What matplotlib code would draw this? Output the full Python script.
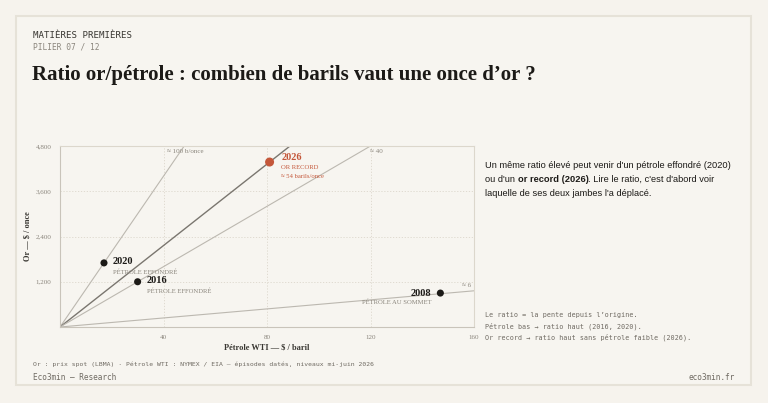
import matplotlib
matplotlib.use("Agg")
import matplotlib.pyplot as plt
from matplotlib.patches import Rectangle

# Data: WTI oil ($/bbl) and gold ($/oz) for dated episodes
years = ["2020", "2016", "2026", "2008"]
oil = [17, 30, 81, 147]
gold = [1700, 1200, 4375, 900]
subtitles = ["PÉTROLE EFFONDRÉ", "PÉTROLE EFFONDRÉ", "OR RECORD", "PÉTROLE AU SOMMET"]

# Reference ratio lines (barrels per ounce)
ratios = [100, 54, 40, 6]
ratio_labels = ["≈ 100 b/once", "", "≈ 40", "≈ 6"]

x_ticks = [40, 80, 120, 160]
y_ticks = [1200, 2400, 3600, 4800]

BG = "#f6f3ed"
INK = "#1c1a17"
GREY = "#8a857c"
ACCENT = "#c4573a"
SERIF = "Liberation Serif"
MONO = "DejaVu Sans Mono"
SANS = "Liberation Sans"

fig = plt.figure(figsize=(7.68, 4.03), dpi=100)
fig.patch.set_facecolor(BG)
W, H = 768, 403

def fx(px):
    return px / W

def fy(py):
    return 1 - py / H

# card
fig.patches.append(Rectangle((fx(16), fy(385)), fx(751) - fx(16), fy(16) - fy(385),
                             transform=fig.transFigure, facecolor="#f7f5f0",
                             edgecolor="#e6e2d8", linewidth=1.5, zorder=-5))

# header
fig.text(fx(33), fy(35), "MATIÈRES PREMIÈRES", family=MONO, fontsize=6.6, color="#3a3833",
         va="center", ha="left")
fig.text(fx(33), fy(46.5), "PILIER 07 / 12", family=MONO, fontsize=5.7, color=GREY,
         va="center", ha="left")
fig.text(fx(32), fy(75), "Ratio or/pétrole : combien de barils vaut une once d’or ?",
         family=SERIF, fontweight="bold", fontsize=15, color=INK, va="center", ha="left")

# chart
ax = fig.add_axes([fx(60), fy(327), fx(474) - fx(60), fy(146) - fy(327)])
ax.set_zorder(2)
ax.set_facecolor("#f7f5f0")
ax.set_xlim(0, 160)
ax.set_ylim(0, 4800)

for t in x_ticks[:-1]:
    ax.axvline(t, color="#dcd7cc", lw=0.6, ls=(0, (1.5, 2)), zorder=1)
for t in y_ticks[:-1]:
    ax.axhline(t, color="#dcd7cc", lw=0.6, ls=(0, (1.5, 2)), zorder=1)

for r in ratios:
    xs = [0, 160]
    ys = [0, 160 * r]
    if r == 54:
        ax.plot(xs, ys, color="#7a766f", lw=1.0, zorder=2)
    else:
        ax.plot(xs, ys, color="#bcb8b0", lw=0.8, zorder=2)

# ratio line labels
ax.text(4800 / ratios[0] + 0.5, 4650, ratio_labels[0], family=SERIF, fontsize=5,
        color=GREY, ha="center", va="center", zorder=4)
ax.text(4800 / ratios[2] + 2.2, 4650, ratio_labels[2], family=SERIF, fontsize=5,
        color=GREY, ha="center", va="center", zorder=4)
ax.text(157, 160 * ratios[3] + 130, ratio_labels[3], family=SERIF, fontsize=5,
        color=GREY, ha="center", va="center", zorder=4)

for yr, x, y, sub in zip(years, oil, gold, subtitles):
    if yr == "2026":
        ax.scatter([x], [y], s=42, color=ACCENT, zorder=5, edgecolor="none")
        ax.text(x + 4.5, y + 130, yr, family=SERIF, fontweight="bold", fontsize=7.5,
                color=ACCENT, va="center", ha="left")
        ax.text(x + 4.5, y - 150, sub, family=SERIF, fontsize=4.8, color=ACCENT,
                va="center", ha="left")
        ax.text(x + 4.5, y - 380, "≈ 54 barils/once", family=SERIF, fontsize=4.8,
                color=ACCENT, va="center", ha="left")
    elif yr == "2008":
        ax.scatter([x], [y], s=26, color=INK, zorder=5, edgecolor="none")
        ax.text(x - 3.5, y, yr, family=SERIF, fontweight="bold", fontsize=7.5,
                color=INK, va="center", ha="right")
        ax.text(x - 3.5, y - 240, sub, family=SERIF, fontsize=4.8, color=GREY,
                va="center", ha="right")
    else:
        ax.scatter([x], [y], s=26, color=INK, zorder=5, edgecolor="none")
        ax.text(x + 3.5, y + 30, yr, family=SERIF, fontweight="bold", fontsize=7.5,
                color=INK, va="center", ha="left")
        ax.text(x + 3.5, y - 250, sub, family=SERIF, fontsize=4.8, color=GREY,
                va="center", ha="left")

ax.set_xticks(x_ticks)
ax.set_yticks(y_ticks)
ax.set_xticklabels([str(t) for t in x_ticks], family=SERIF, fontsize=5, color=GREY)
ax.set_yticklabels([f"{t:,}" for t in y_ticks], family=SERIF, fontsize=5, color=GREY)
ax.tick_params(length=0, pad=6)
for s in ax.spines.values():
    s.set_color("#dcd7cc")
    s.set_linewidth(0.8)
ax.spines["left"].set_color("#c9c4ba")
ax.spines["bottom"].set_color("#c9c4ba")

ax.set_xlabel("Pétrole WTI — $ / baril", family=SERIF, fontweight="bold", fontsize=6,
              color="#3a3833", labelpad=2)
ax.set_ylabel("Or — $ / once", family=SERIF, fontweight="bold", fontsize=6,
              color="#3a3833", labelpad=3)

# side commentary
lines = [
    [("Un même ratio élevé peut venir d'un pétrole effondré (2020)", "normal")],
    [("ou d'un ", "normal"), ("or record (2026)", "bold"), (". Lire le ratio, c'est d'abord voir", "normal")],
    [("laquelle de ses deux jambes l'a déplacé.", "normal")],
]
renderer = fig.canvas.get_renderer()
for i, parts in enumerate(lines):
    xpos = fx(485)
    for txt, wt in parts:
        t = fig.text(xpos, fy(165 + i * 14.5), txt, family=SANS, fontweight=wt,
                     fontsize=6.7, color=INK, va="center", ha="left")
        bb = t.get_window_extent(renderer=renderer)
        xpos += bb.width / W

notes = [
    "Le ratio = la pente depuis l’origine.",
    "Pétrole bas → ratio haut (2016, 2020).",
    "Or record → ratio haut sans pétrole faible (2026).",
]
for i, n in enumerate(notes):
    fig.text(fx(485), fy(315.5 + i * 11), n, family=MONO, fontsize=4.9, color="#6f6a62",
             va="center", ha="left")

# footer
fig.text(fx(33), fy(364.5), "Or : prix spot (LBMA) · Pétrole WTI : NYMEX / EIA — épisodes datés, niveaux mi-juin 2026",
         family=MONO, fontsize=4.6, color="#6f6a62", va="center", ha="left")
fig.text(fx(33), fy(377), "Eco3min — Research", family=MONO, fontsize=5.6, color="#6f6a62",
         va="center", ha="left")
fig.text(fx(735), fy(377), "eco3min.fr", family=MONO, fontsize=5.6, color="#6f6a62",
         va="center", ha="right")

fig.savefig("out.png", dpi=100, facecolor=BG)
